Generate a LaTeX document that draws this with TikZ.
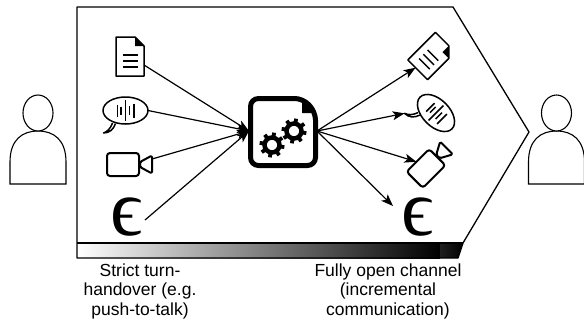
\documentclass[tikz,border=0pt]{standalone}
\usepackage{fontspec}
\setmainfont{Liberation Sans}
\newfontfamily\epsfont{Liberation Serif}
\usetikzlibrary{arrows.meta,shapes.geometric}

\tikzset{
    outline/.style={draw=black,line width=1.3pt},
    iconline/.style={draw=black,line width=1.5pt,line join=round},
    signal/.style={->,>={Stealth[length=12pt,width=9pt,inset=3pt]},line width=1.2pt},
    caption/.style={align=center,font=\fontsize{17.5}{19.5}\selectfont},
    epsmark/.style={font=\epsfont\fontsize{80}{80}\selectfont,inner sep=0pt},
    pics/person/.style={code={
        \draw[outline,line width=1.1pt] (-28,52) -- (-28,30) .. controls (-28,8) and (-16,-1) .. (0,-1)
            .. controls (16,-1) and (28,8) .. (28,30) -- (28,52) -- cycle;
        \draw[outline,line width=1.1pt,fill=white] (0,-19) ellipse (15 and 18);
    }},
    pics/docicon/.style={code={
        \draw[iconline,fill=white] (-14,-19.5) -- (5,-19.5) -- (14,-10.5) -- (14,19.5) -- (-14,19.5) -- cycle;
        \fill (5,-19.5) -- (14,-10.5) -- (5,-10.5) -- cycle;
        \foreach \y in {-1.5,4.5,10.5}
            \draw[iconline] (-7,\y) -- (8,\y);
        \coordinate (-east) at (14,8.5);
        \coordinate (-south) at (-3,19.5);
    }},
    pics/talkicon/.style={code={
        \draw[iconline,fill=white] (-13,12.5) .. controls (-15,18) and (-18,21) .. (-22,22.5)
            .. controls (-16,22.5) and (-12,19) .. (-10,13);
        \draw[iconline,fill=white] (0,0) ellipse (22.5 and 13.5);
        \foreach \x/\h in {-8/6,-4.5/4,0/10.5,4/4.5,8.5/7}
            \draw[iconline] (\x,-\h) -- (\x,\h);
        \coordinate (-east) at (22.5,0);
        \coordinate (-tail) at (-22,22.5);
    }},
    pics/camicon/.style={code={
        \draw[iconline,line width=2pt,rounded corners=3pt] (-16,-11.5) rectangle (16,11.5);
        \draw[iconline,line width=2pt,rounded corners=1.5pt] (17,-2.5) -- (29,-9) -- (29,9) -- (17,2.5) -- cycle;
        \coordinate (-lens) at (29,-5.5);
        \coordinate (-side) at (-2,-11.5);
    }},
    pics/gearicon/.style={code={
        \draw[line width=4.5pt] (0,0) circle (7.5);
        \foreach \a in {0,45,...,315}
            \draw[line width=3.8pt] (\a+10:8) -- (\a+10:12.5);
    }},
    pics/hubicon/.style={code={
        \draw[line width=5pt,line join=round,rounded corners=8pt,fill=white]
            (-32.5,-33.5) -- (20,-33.5) -- (32.5,-20) -- (32.5,33.5) -- (-32.5,33.5) -- cycle;
        \fill (19,-33.5) -- (32.5,-19) -- (19,-19) -- cycle;
        \pic at (-11,13) {gearicon};
        \pic at (11,-1) {gearicon};
        \coordinate (-west) at (-34,-1);
        \coordinate (-east) at (34,-1);
    }}
}

\begin{document}
\begin{tikzpicture}[x=1pt,y=-1pt]
    \useasboundingbox (0,0) rectangle (584,327);

    % strip along the bottom
    \shade[left color=white,right color=black] (77,243) rectangle (440,258);
    \shade[left color=black!88,right color=black] (440,243) -- (463,243) -- (458,258) -- (440,258) -- cycle;

    % channel outline
    \draw[outline,line join=round] (77,7) -- (453,7) -- (529,132) -- (463,243) -- (458,258) -- (77,258) -- cycle;
    \draw[line width=2pt] (77,243) -- (463,243);

    \pic at (38,132) {person};
    \pic at (556.5,132) {person};

    \pic (doc) at (130,56.5) {docicon};
    \pic (talk) at (125.5,110.5) {talkicon};
    \pic (cam) at (123,164.5) {camicon};
    \node[epsmark] (eps) at (126.5,217.5) {ϵ};
    \coordinate (epsfoot) at (145,220);

    \pic (hub) at (283,132) {hubicon};

    \pic[rotate=-45] (docout) at (431.5,56) {docicon};
    \pic[rotate=-45] (talkout) at (436,113) {talkicon};
    \pic[rotate=45] (camout) at (426,168.5) {camicon};
    \node[epsmark] (epsout) at (417.5,217.5) {ϵ};
    \coordinate (epsend) at (393,206);

    \draw[signal] (doc-east) -- (hub-west);
    \draw[signal] (talk-east) -- (hub-west);
    \draw[signal] (cam-lens) -- (hub-west);
    \draw[signal] (epsfoot) -- (hub-west);

    \draw[signal] (hub-east) -- (docout-south);
    \draw[signal] (hub-east) -- (talkout-tail);
    \draw[signal] (hub-east) -- (camout-side);
    \draw[signal] (hub-east) -- (epsend);

    \node[caption] (strict) at (140,291) {Strict turn-\\handover (e.g.\\push-to-talk)};
    \node[caption] (open) at (388,291) {Fully open channel\\(incremental\\communication)};
\end{tikzpicture}
\end{document}
